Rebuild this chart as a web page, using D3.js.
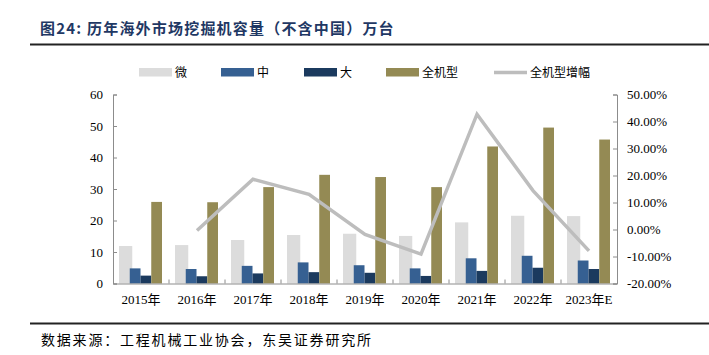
<!DOCTYPE html>
<html><head><meta charset="utf-8">
<script src="https://cdn.jsdelivr.net/npm/d3@7"></script>
<style>body{margin:0;background:#fff}svg{display:block}</style>
</head><body>
<svg id="c" width="709" height="355"></svg>
<script>
// ---- data ----
const years = ["2015年","2016年","2017年","2018年","2019年","2020年","2021年","2022年","2023年E"];
const micro  = [11.9,12.2,13.8,15.4,15.8,15.1,19.4,21.5,21.4];
const medium = [4.8,4.6,5.6,6.7,5.8,4.8,8.0,8.8,7.3];
const large  = [2.5,2.3,3.2,3.6,3.4,2.4,4.0,5.0,4.6];
const total  = [25.9,25.8,30.6,34.5,33.8,30.6,43.5,49.5,45.7];
const growth = [null,-0.4,18.6,13.0,-1.8,-9.1,42.7,14.4,-7.9];
const seriesNames = ["微","中","大","全机型"];
const lineName = "全机型增幅";
const leftTicks = [0,10,20,30,40,50,60];
const rightTicks = [-20,-10,0,10,20,30,40,50];
const titleText = "图24:  历年海外市场挖掘机容量（不含中国）万台";
const sourceText = "数据来源：工程机械工业协会，东吴证券研究所";

const colors = ["#DCDCDC","#366092","#1B3A5E","#948A54"];
const lineColor = "#BDBDBD";
const serif = "'Liberation Serif','Times New Roman',serif";
const cjk = "'Noto Sans CJK SC','Liberation Serif',serif";

const svg = d3.select("#c");
const L = 113, R = 617, T = 94.5, B = 283.5;

const x = d3.scaleBand().domain(years).range([L, R]).paddingInner(0).paddingOuter(0);
const sub = d3.scaleBand().domain(seriesNames).range([6, 49]);
const yL = d3.scaleLinear().domain([0, 60]).range([B, T]);
const yR = d3.scaleLinear().domain([-20, 50]).range([B, T]);

// title
svg.append("text").attr("x", 40).attr("y", 34)
  .attr("font-family", cjk).attr("font-size", 15).attr("font-weight", "bold")
  .attr("letter-spacing", 1.2)
  .attr("fill", "#1F3864").text(titleText);
svg.append("line").attr("x1", 30).attr("x2", 709).attr("y1", 44.5).attr("y2", 44.5)
  .attr("stroke", "#222").attr("stroke-width", 2);

// bars
const seriesData = [micro, medium, large, total];
seriesData.forEach((arr, si) => {
  const extra = si === 0 ? 2.5 : 0;
  svg.append("g").selectAll("rect").data(arr).join("rect")
    .attr("x", (d, i) => x(years[i]) + sub(seriesNames[si]))
    .attr("width", sub.bandwidth() + extra)
    .attr("y", d => yL(d))
    .attr("height", d => B - yL(d))
    .attr("fill", colors[si]);
});

// line
const pts = growth.map((g, i) => ({x: x(years[i]) + x.bandwidth()/2, g}));
svg.append("path").datum(pts)
  .attr("d", d3.line().defined(d => d.g !== null).x(d => d.x).y(d => yR(d.g)))
  .attr("fill", "none").attr("stroke", lineColor).attr("stroke-width", 3.5);

// axes
const axisColor = "#8C8C8C";
const gL = svg.append("g").attr("transform", `translate(${L},0)`)
  .call(d3.axisLeft(yL).tickValues(leftTicks).tickSize(-4).tickPadding(10));
const gR = svg.append("g").attr("transform", `translate(${R},0)`)
  .call(d3.axisRight(yR).tickValues(rightTicks).tickSize(-4).tickPadding(10)
    .tickFormat(d => d.toFixed(2) + "%"));
const gB = svg.append("g").attr("transform", `translate(0,${B})`)
  .call(d3.axisBottom(x).tickSize(0).tickPadding(11));
[gL, gR, gB].forEach(g => {
  g.selectAll("path.domain").attr("stroke", axisColor);
  g.selectAll(".tick line").attr("stroke", axisColor);
  g.selectAll("text").attr("font-family", serif).attr("font-size", 13).attr("fill", "#000");
});
gB.selectAll("text").attr("font-family", "'Liberation Serif','Noto Sans CJK SC',serif");
// category boundary ticks
const bounds = years.slice(1).map(y => x(y));
svg.append("g").selectAll("line").data(bounds).join("line")
  .attr("x1", d => d).attr("x2", d => d).attr("y1", B - 4).attr("y2", B)
  .attr("stroke", axisColor);

// legend
const legX = [139, 221, 304, 386];
seriesNames.forEach((n, i) => {
  svg.append("rect").attr("x", legX[i]).attr("y", 68).attr("width", 33).attr("height", 8.5)
    .attr("fill", colors[i]);
  svg.append("text").attr("x", legX[i] + 36).attr("y", 77)
    .attr("font-family", cjk).attr("font-size", 12).attr("fill", "#000").text(n);
});
svg.append("line").attr("x1", 494).attr("x2", 527).attr("y1", 72.5).attr("y2", 72.5)
  .attr("stroke", lineColor).attr("stroke-width", 3.5);
svg.append("text").attr("x", 530).attr("y", 77)
  .attr("font-family", cjk).attr("font-size", 12).attr("fill", "#000").text(lineName);

// source
svg.append("line").attr("x1", 30).attr("x2", 709).attr("y1", 323.5).attr("y2", 323.5)
  .attr("stroke", "#222").attr("stroke-width", 2);
svg.append("text").attr("x", 41).attr("y", 345)
  .attr("font-family", cjk).attr("font-size", 14).attr("letter-spacing", 1.8)
  .attr("fill", "#000").text(sourceText);
</script>
</body></html>
